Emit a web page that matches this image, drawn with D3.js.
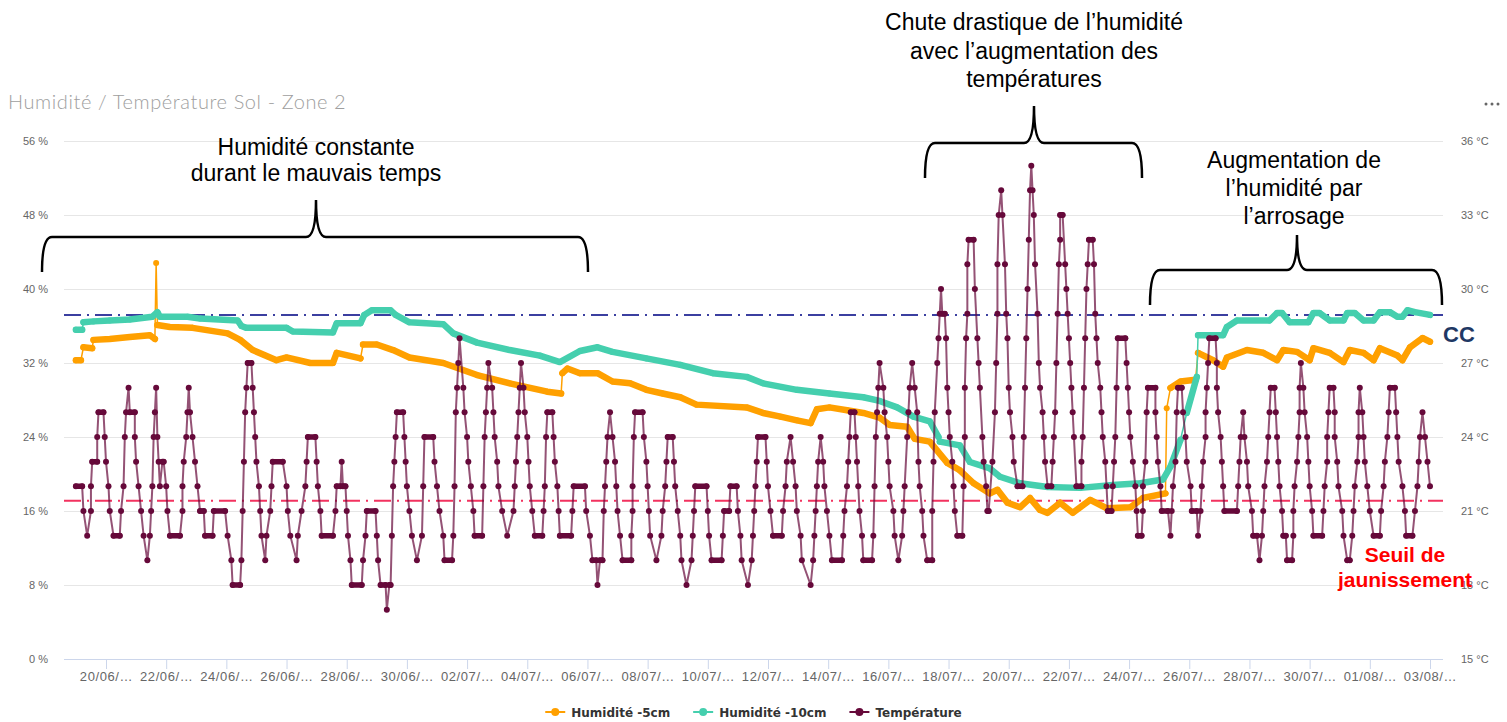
<!DOCTYPE html>
<html>
<head>
<meta charset="utf-8">
<script src="https://cdn.jsdelivr.net/npm/d3@7/dist/d3.min.js"></script>
<style>
  body { margin: 0; background: #fff; }
  svg { display: block; }
</style>
</head>
<body>
<div id="chart"></div>
<script>
// x tick labels (one every 48 h, first one at 20/06 00:00)
var dateLabels = ['20/06/…', '22/06/…', '24/06/…', '26/06/…', '28/06/…', '30/06/…',
    '02/07/…', '04/07/…', '06/07/…', '08/07/…', '10/07/…', '12/07/…', '14/07/…',
    '16/07/…', '18/07/…', '20/07/…', '22/07/…', '24/07/…', '26/07/…', '28/07/…',
    '30/07/…', '01/08/…', '03/08/…'];
var humidityTicks = [0, 8, 16, 24, 32, 40, 48, 56];
var tempTicks = [15, 18, 21, 24, 27, 30, 33, 36];

// reference levels (%)
var ccLevel = 37.2;
var yellowingLevel = 17.1;

// [hours since 19/06 00:00, humidity %]
var humid5 = [[0,32.3],[4,32.3],[6,33.7],[13,33.6],[14,34.5],[27,34.6],[43,34.8],[59,35.0],
    [63,34.6],[64,42.8],[65,36.1],[75,35.9],[93,35.8],[121,35.2],[131,34.5],[141,33.4],
    [160,32.3],[168,32.6],[187,32.0],[205,32.0],[208,33.1],[227,32.5],[229,34.0],[240,34.0],
    [253,33.4],[266,32.6],[293,32.0],[320,30.7],[346,29.8],[376,28.9],[387,28.7],[388,30.9],
    [392,31.4],[402,30.9],[416,30.9],[428,30.0],[442,29.8],[455,29.1],[468,28.7],[482,28.3],
    [495,27.5],[535,27.2],[548,26.6],[562,26.2],[575,25.8],[586,25.5],[591,27.0],[601,27.2],
    [615,26.9],[628,26.6],[641,26.1],[649,25.3],[663,25.1],[669,23.8],[681,23.5],[695,21.2],
    [705,20.4],[716,19.0],[729,17.9],[735,18.3],[743,16.9],[753,16.4],[761,17.4],[769,16.1],
    [775,15.8],[785,16.9],[795,15.8],[809,17.2],[822,16.3],[841,16.4],[851,17.4],[869,17.9],
    [870,27.1],[873,29.3],[881,30.0],[893,30.2],[895,33.1],[907,32.3],[915,31.6],[918,32.6],
    [934,33.4],[947,33.1],[958,32.3],[963,33.4],[974,33.2],[984,32.3],[987,33.6],[1000,33.1],
    [1011,32.1],[1016,33.4],[1027,33.1],[1035,32.3],[1040,33.6],[1054,32.8],[1058,32.3],
    [1064,33.7],[1074,34.7],[1080,34.3]];

var humid10 = [[0,35.6],[5,35.6],[6,36.4],[14,36.5],[27,36.6],[43,36.7],[61,37.0],[65,37.5],
    [67,37.0],[89,37.0],[99,36.8],[129,36.6],[132,36.0],[136,35.8],[168,35.8],[173,35.4],
    [205,35.3],[208,36.3],[227,36.3],[230,37.2],[236,37.7],[251,37.7],[255,37.2],[266,36.4],
    [293,36.2],[301,35.2],[320,34.2],[346,33.4],[370,32.8],[386,32.1],[402,33.3],[416,33.7],
    [428,33.2],[455,32.5],[482,31.8],[508,30.9],[535,30.5],[548,29.8],[575,29.1],[601,28.7],
    [628,28.3],[641,27.9],[655,27.2],[668,26.2],[681,25.7],[688,24.0],[689,23.5],[705,23.1],
    [713,21.3],[729,20.6],[737,19.7],[753,19.0],[775,18.6],[801,18.5],[827,18.8],[849,19.0],
    [867,19.4],[873,20.8],[881,23.7],[886,26.6],[894,30.5],[895,35.0],[915,35.0],[918,35.9],
    [926,36.6],[952,36.6],[958,37.4],[962,37.4],[968,36.4],[983,36.4],[987,37.4],[992,37.4],
    [1000,36.6],[1011,36.6],[1014,37.4],[1020,37.4],[1027,36.6],[1035,36.6],[1040,37.5],
    [1048,37.5],[1054,37.0],[1058,37.0],[1062,37.7],[1068,37.5],[1080,37.2]];

// [hours since 19/06 00:00, °C]
var temperature = [
    [0,22],[5,22],[6,21],[9,20],[12,21],[12,22],[13,23],[17,23],[17,24],[18,25],[22,25],[23,24],
    [24,23],[26,22],[27,21],[30,20],[35,20],[36,21],[38,22],[39,24],[40,25],[42,26],[43,25],[47,25],
    [47,24],[48,23],[50,22],[52,21],[54,20],[57,19],[59,20],[60,21],[61,22],[62,24],[63,25],[64,26],
    [65,24],[66,23],[67,22],[69,23],[70,23],[72,22],[73,21],[75,20],[83,20],[85,21],[85,22],[86,23],
    [88,24],[89,25],[90,26],[91,25],[93,24],[95,23],[97,22],[99,21],[102,21],[103,20],[109,20],
    [110,21],[119,21],[121,20],[124,19],[125,18],[131,18],[132,19],[133,21],[134,23],[135,25],
    [136,26],[137,27],[140,27],[141,26],[142,25],[143,24],[144,23],[146,22],[147,21],[148,20],
    [151,19],[152,20],[155,21],[156,22],[157,23],[165,23],[168,22],[169,21],[171,20],[176,19],
    [177,20],[180,21],[183,22],[184,23],[185,24],[191,24],[192,23],[193,22],[195,21],[196,20],
    [205,20],[207,21],[208,22],[211,22],[212,23],[213,22],[215,22],[216,21],[217,20],[219,19],
    [220,18],[228,18],[229,19],[231,20],[232,21],[239,21],[240,20],[241,19],[243,18],[247,18],
    [248,17],[250,18],[251,18],[252,20],[253,22],[254,23],[255,24],[256,25],[261,25],[262,24],
    [263,23],[264,22],[266,21],[268,20],[272,19],[276,20],[277,22],[278,24],[285,24],[286,23],
    [288,22],[290,21],[293,20],[294,19],[300,19],[301,20],[302,22],[303,25],[304,26],[305,27],
    [306,28],[309,26],[310,25],[312,24],[313,23],[315,22],[317,21],[318,20],[324,20],[325,22],
    [326,24],[327,25],[328,26],[329,27],[332,26],[333,25],[334,24],[336,23],[337,22],[340,21],
    [344,20],[349,21],[350,22],[351,23],[352,24],[353,25],[354,26],[355,27],[357,26],[358,25],
    [360,24],[361,23],[362,22],[364,21],[366,20],[372,20],[373,21],[374,22],[375,24],[376,25],
    [380,25],[381,24],[382,23],[384,22],[385,21],[386,20],[395,20],[396,21],[397,22],[406,22],
    [407,21],[410,20],[412,19],[415,19],[416,18],[418,19],[420,19],[421,21],[422,22],[423,23],
    [424,24],[426,25],[428,24],[430,23],[431,22],[432,21],[434,20],[436,19],[443,19],[443,20],
    [444,21],[444,22],[445,24],[446,25],[452,25],[453,24],[455,23],[456,22],[457,21],[458,20],
    [463,19],[467,20],[468,21],[470,22],[471,23],[472,24],[476,24],[477,23],[478,22],[480,21],
    [482,20],[483,19],[487,18],[491,19],[492,20],[493,21],[494,22],[503,22],[504,21],[505,20],
    [507,19],[515,19],[516,20],[517,21],[521,21],[522,22],[527,22],[528,21],[530,20],[531,19],
    [536,18],[539,19],[540,20],[541,21],[542,22],[543,23],[544,24],[550,24],[551,23],[552,22],
    [554,21],[556,20],[563,20],[564,21],[566,22],[567,23],[570,24],[572,23],[574,22],[575,21],
    [578,20],[579,19],[586,18],[588,19],[589,20],[590,21],[591,22],[592,23],[594,24],[596,23],
    [597,22],[599,21],[601,20],[603,19],[611,19],[612,20],[613,21],[615,22],[616,23],[617,24],
    [618,25],[621,25],[622,24],[623,23],[624,22],[625,21],[627,20],[628,19],[635,19],[636,20],
    [637,22],[638,24],[639,25],[640,26],[641,27],[644,26],[645,25],[647,24],[648,23],[649,22],
    [652,21],[653,20],[656,19],[659,20],[660,21],[661,22],[663,24],[664,25],[665,26],[667,27],
    [669,26],[671,25],[672,23],[673,22],[675,21],[676,20],[679,19],[683,19],[683,21],[684,23],
    [685,25],[687,27],[688,28],[689,29],[690,30],[691,29],[693,29],[694,28],[695,26],[696,25],
    [697,24],[699,23],[700,22],[701,21],[703,20],[707,20],[708,22],[709,24],[709,26],[710,28],
    [711,29],[711,31],[712,32],[716,32],[717,30],[719,28],[720,27],[721,26],[723,24],[724,23],
    [726,22],[727,21],[728,21],[731,23],[733,25],[734,27],[735,29],[735,31],[736,33],[738,34],
    [739,33],[741,31],[742,29],[743,28],[744,26],[745,25],[747,24],[748,23],[751,22],[755,22],
    [756,24],[757,26],[758,28],[759,30],[760,32],[761,34],[762,35],[763,34],[764,33],[765,31],
    [767,29],[768,27],[769,26],[771,25],[772,24],[773,23],[775,22],[778,22],[779,23],[780,24],
    [781,25],[782,27],[783,29],[784,31],[785,32],[785,33],[787,33],[789,31],[790,30],[791,29],
    [792,28],[793,27],[794,26],[795,25],[796,24],[798,22],[802,22],[802,23],[803,24],[804,26],
    [805,28],[806,30],[807,31],[808,32],[811,32],[812,31],[813,29],[814,28],[815,27],[817,26],
    [818,25],[819,24],[821,23],[822,22],[823,21],[826,21],[827,22],[828,23],[829,24],[830,26],
    [831,28],[837,28],[838,27],[839,26],[840,25],[841,24],[843,23],[845,22],[846,21],[847,20],
    [850,20],[851,21],[851,22],[853,23],[854,25],[855,26],[861,26],[861,25],[862,24],[863,23],
    [865,22],[866,21],[871,21],[873,20],[874,21],[875,22],[877,23],[878,25],[879,26],[882,26],
    [883,25],[885,24],[886,23],[889,22],[890,21],[894,21],[895,20],[897,21],[898,22],[899,23],
    [901,24],[901,25],[902,26],[903,27],[904,28],[909,28],[910,27],[910,26],[911,25],[913,24],
    [914,23],[915,22],[916,21],[926,21],[927,22],[928,23],[929,24],[931,25],[932,24],[934,23],
    [935,22],[938,21],[939,20],[942,20],[944,19],[946,20],[947,21],[948,22],[950,23],[951,24],
    [952,25],[953,26],[956,26],[957,25],[958,24],[959,23],[960,22],[962,21],[963,20],[965,20],
    [966,19],[970,19],[971,20],[971,21],[972,22],[974,23],[975,24],[976,25],[976,26],[977,27],
    [979,26],[980,25],[982,24],[983,23],[984,22],[986,21],[987,20],[994,20],[995,21],[996,22],
    [998,23],[998,24],[999,25],[1000,26],[1003,26],[1004,25],[1004,24],[1006,23],[1007,22],
    [1010,21],[1011,20],[1014,19],[1016,19],[1018,20],[1019,21],[1020,22],[1022,23],[1023,24],
    [1023,25],[1024,26],[1026,25],[1027,24],[1028,23],[1030,22],[1032,21],[1035,20],[1040,20],
    [1041,21],[1043,22],[1044,23],[1046,24],[1047,25],[1048,26],[1052,26],[1053,25],[1054,24],
    [1055,23],[1058,22],[1060,21],[1061,20],[1066,20],[1068,21],[1070,22],[1071,23],[1072,24],
    [1074,25],[1076,24],[1078,23],[1080,22]];

var seriesNames = ['Humidité -5cm', 'Humidité -10cm', 'Température'];
var seriesColors = ['#ffa000', '#45cfae', '#66093a'];

// ---------------------------------------------------------------
var W = 1507, H = 722;
var plot = { left: 64, right: 1443, top: 141, bottom: 659 };

var svg = d3.select('#chart').append('svg')
    .attr('width', W)
    .attr('height', H)
    .style('font-family', '"DejaVu Sans", sans-serif');

var x = d3.scaleLinear().domain([0, 1080]).range([75.9, 1430]);
var yHum = d3.scaleLinear().domain([0, 56]).range([plot.bottom, plot.top]);
var yTemp = d3.scaleLinear().domain([15, 36]).range([plot.bottom, plot.top]);

// title + menu dots
svg.append('text')
    .attr('x', 8)
    .attr('y', 109)
    .style('font-family', 'Lato, sans-serif')
    .style('font-size', '20px')
    .style('font-weight', 300)
    .style('letter-spacing', '0.6px')
    .attr('fill', '#9e9e9e')
    .text('Humidité / Température Sol - Zone 2');

svg.append('g').selectAll('circle')
    .data([0, 1, 2]).enter().append('circle')
    .attr('cx', function(d) { return 1486 + d * 6; })
    .attr('cy', 104)
    .attr('r', 1.5)
    .attr('fill', '#666');

// left axis with grid lines
var leftAxis = svg.append('g')
    .attr('transform', 'translate(' + plot.left + ',0)')
    .call(d3.axisLeft(yHum)
        .tickValues(humidityTicks)
        .tickSize(-(plot.right - plot.left))
        .tickPadding(16)
        .tickFormat(function(d) { return d + ' %'; }));
leftAxis.select('.domain').remove();
leftAxis.selectAll('line').attr('stroke', '#e6e6e6');
leftAxis.selectAll('text').attr('fill', '#666').style('font-size', '11px');

var rightAxis = svg.append('g')
    .attr('transform', 'translate(' + plot.right + ',0)')
    .call(d3.axisRight(yTemp)
        .tickValues(tempTicks)
        .tickSize(0)
        .tickPadding(18)
        .tickFormat(function(d) { return d + ' °C'; }));
rightAxis.select('.domain').remove();
rightAxis.selectAll('text').attr('fill', '#666').style('font-size', '11px');

// x axis
var xAxis = svg.append('g')
    .attr('transform', 'translate(0,' + plot.bottom + ')')
    .call(d3.axisBottom(x)
        .tickValues(d3.range(dateLabels.length).map(function(i) { return 24 + i * 48; }))
        .tickSize(10)
        .tickPadding(3)
        .tickFormat(function(d, i) { return dateLabels[i]; }));
xAxis.select('.domain').remove();
xAxis.selectAll('line').attr('stroke', '#ccd6eb');
xAxis.selectAll('text')
    .attr('fill', '#666')
    .style('font-size', '13px')
    .style('letter-spacing', '0.6px');
svg.append('line')
    .attr('x1', plot.left).attr('x2', plot.right)
    .attr('y1', plot.bottom + 0.5).attr('y2', plot.bottom + 0.5)
    .attr('stroke', '#ccd6eb');

// reference lines
function refLine(value, colour) {
    svg.append('line')
        .attr('x1', plot.left).attr('x2', plot.right)
        .attr('y1', yHum(value)).attr('y2', yHum(value))
        .attr('stroke', colour)
        .attr('stroke-width', 2)
        .attr('stroke-dasharray', '17,6,2,6');
}
refLine(ccLevel, '#3b3fa0');
refLine(yellowingLevel, '#f2325f');

// humidity series: thin line, thick band where readings are dense, dots
function drawHumidity(data, colour) {
    var g = svg.append('g');
    var line = d3.line()
        .x(function(d) { return x(d[0]); })
        .y(function(d) { return yHum(d[1]); });

    g.append('path').datum(data)
        .attr('d', line)
        .attr('fill', 'none')
        .attr('stroke', colour)
        .attr('stroke-width', 1.5);

    var runs = [], run = [data[0]];
    for (var i = 1; i < data.length; i++) {
        var dh = data[i][0] - data[i - 1][0];
        var dv = Math.abs(data[i][1] - data[i - 1][1]);
        if (dv / Math.max(dh, 0.5) < 0.5) {
            run.push(data[i]);
        } else {
            if (run.length > 1) runs.push(run);
            run = [data[i]];
        }
    }
    if (run.length > 1) runs.push(run);

    g.selectAll('.band').data(runs).enter().append('path')
        .attr('class', 'band')
        .attr('d', line)
        .attr('fill', 'none')
        .attr('stroke', colour)
        .attr('stroke-width', 6.5)
        .attr('stroke-linejoin', 'round')
        .attr('stroke-linecap', 'round');

    g.selectAll('circle').data(data).enter().append('circle')
        .attr('cx', function(d) { return x(d[0]); })
        .attr('cy', function(d) { return yHum(d[1]); })
        .attr('r', 3)
        .attr('fill', colour);
}
drawHumidity(humid5, seriesColors[0]);
drawHumidity(humid10, seriesColors[1]);

// temperature: line, flat stretches look solid (readings overlap), dots
var tempLine = d3.line()
    .x(function(d) { return x(d[0]); })
    .y(function(d) { return yTemp(d[1]); });
svg.append('path').datum(temperature)
    .attr('d', tempLine)
    .attr('fill', 'none')
    .attr('stroke', seriesColors[2])
    .attr('stroke-opacity', 0.7)
    .attr('stroke-width', 2);
var flats = d3.pairs(temperature).filter(function(p) {
    return p[0][1] === p[1][1] && p[1][0] > p[0][0];
});
svg.append('g').selectAll('line')
    .data(flats).enter().append('line')
    .attr('x1', function(p) { return x(p[0][0]); })
    .attr('x2', function(p) { return x(p[1][0]); })
    .attr('y1', function(p) { return yTemp(p[0][1]); })
    .attr('y2', function(p) { return yTemp(p[1][1]); })
    .attr('stroke', seriesColors[2])
    .attr('stroke-width', 5.5)
    .attr('stroke-linecap', 'round');
svg.append('g').selectAll('circle')
    .data(temperature).enter().append('circle')
    .attr('cx', function(d) { return x(d[0]); })
    .attr('cy', function(d) { return yTemp(d[1]); })
    .attr('r', 3)
    .attr('fill', seriesColors[2]);

// legend, centred under the plot
var legend = svg.append('g');
var lx = 0;
seriesNames.forEach(function(name, i) {
    var item = legend.append('g').attr('transform', 'translate(' + lx + ',0)');
    item.append('line')
        .attr('x1', 0).attr('x2', 20).attr('y1', 0).attr('y2', 0)
        .attr('stroke', seriesColors[i]).attr('stroke-width', 2);
    item.append('circle').attr('cx', 10).attr('cy', 0).attr('r', 4).attr('fill', seriesColors[i]);
    var t = item.append('text')
        .attr('x', 26).attr('y', 4.5)
        .style('font-size', '12px')
        .style('font-weight', 'bold')
        .attr('fill', '#333')
        .text(name);
    lx += 26 + t.node().getComputedTextLength() + 23;
});
lx -= 23;
legend.attr('transform', 'translate(' + ((plot.left + plot.right) / 2 - lx / 2) + ',712)');

// annotations
var noteFont = '"Liberation Sans", Arial, sans-serif';
function note(lines, cx, y0, step) {
    lines.forEach(function(s, i) {
        svg.append('text')
            .attr('x', cx).attr('y', y0 + i * step)
            .attr('text-anchor', 'middle')
            .style('font-family', noteFont)
            .style('font-size', '23px')
            .attr('fill', '#000')
            .text(s);
    });
}
function brace(x1, x2, xm, yLine, yTip, yEnd) {
    var r = 10;
    var p = 'M' + x1 + ',' + yEnd +
        ' Q' + x1 + ',' + yLine + ' ' + (x1 + r) + ',' + yLine +
        ' L' + (xm - r) + ',' + yLine +
        ' Q' + xm + ',' + yLine + ' ' + xm + ',' + yTip +
        ' Q' + xm + ',' + yLine + ' ' + (xm + r) + ',' + yLine +
        ' L' + (x2 - r) + ',' + yLine +
        ' Q' + x2 + ',' + yLine + ' ' + x2 + ',' + yEnd;
    svg.append('path')
        .attr('d', p)
        .attr('fill', 'none')
        .attr('stroke', '#000')
        .attr('stroke-width', 2.5);
}

note(['Humidité constante', 'durant le mauvais temps'], 316, 155, 26);
brace(42, 588, 316, 237, 200, 272);

note(['Chute drastique de l’humidité', 'avec l’augmentation des', 'températures'], 1034, 30, 28.5);
brace(925, 1142, 1034, 143, 106, 178);

note(['Augmentation de', 'l’humidité par', 'l’arrosage'], 1294, 168, 28);
brace(1150, 1442, 1297, 270, 235, 305);

svg.append('text')
    .attr('x', 1443).attr('y', 342)
    .style('font-family', noteFont)
    .style('font-size', '22px')
    .style('font-weight', 'bold')
    .attr('fill', '#1f3864')
    .text('CC');

['Seuil de', 'jaunissement'].forEach(function(s, i) {
    svg.append('text')
        .attr('x', 1405).attr('y', 562 + i * 25)
        .attr('text-anchor', 'middle')
        .style('font-family', noteFont)
        .style('font-size', '21px')
        .style('font-weight', 'bold')
        .attr('fill', '#ff0000')
        .text(s);
});
</script>
</body>
</html>
